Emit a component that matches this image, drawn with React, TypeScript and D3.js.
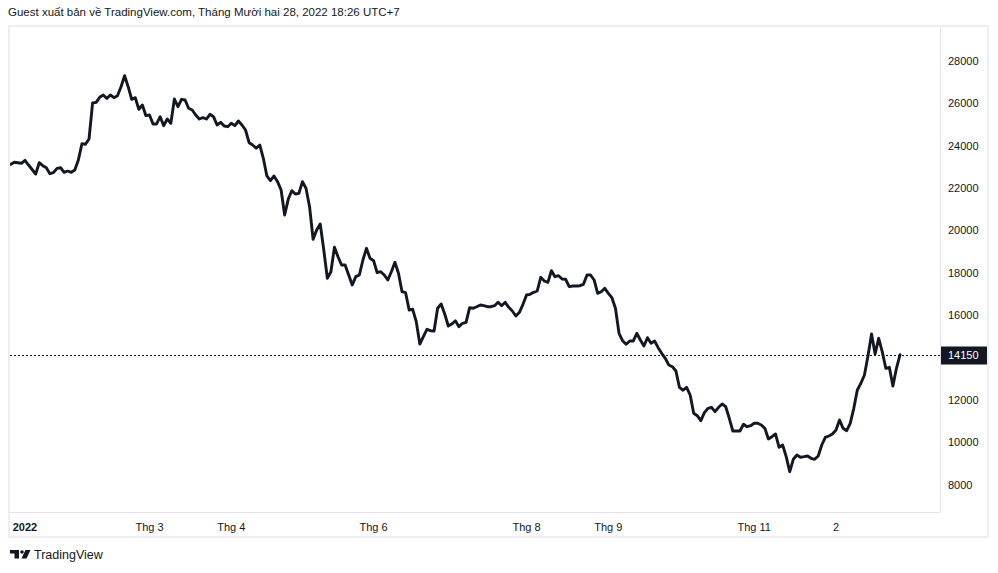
import React from "react";
import * as d3 from "d3";

// Bar index (trading day, 0 = 4 Jan 2022) and closing value
const barIndex: number[] = [
  -4, -3, -2, -1, 0, 1, 3, 4, 5, 6, 7, 8, 9, 10, 11, 12, 13, 14, 15, 16, 17, 18, 19,
  20, 21, 22, 23, 24, 25, 26, 27, 28, 29, 30, 31, 32, 33, 34, 35, 36, 37, 38, 39,
  40, 41, 42, 43, 44, 45, 46, 47, 48, 49, 50, 51, 52, 53, 54, 55, 56, 57, 58, 59,
  60, 61, 62, 63, 64, 65, 66, 67, 68, 69, 70, 71, 72, 73, 74, 75, 76, 77, 78, 79,
  80, 81, 82, 83, 84, 85, 86, 87, 88, 89, 90, 91, 92, 93, 94, 95, 96, 97, 98, 99,
  100, 101, 102, 103, 104, 105, 106, 107, 108, 109, 110, 111, 112, 113, 114, 115, 116, 117, 118, 119,
  120, 121, 122, 123, 124, 125, 126, 127, 128, 129, 130, 131, 132, 133, 134, 135, 136, 137, 138, 139,
  140, 141, 142, 143, 144, 145, 146, 147, 148, 149, 150, 151, 152, 153, 154, 155, 156, 157, 158, 159,
  160, 161, 162, 163, 164, 165, 166, 167, 168, 169, 170, 171, 172, 173, 174, 175, 176, 177, 178, 179,
  180, 181, 182, 183, 184, 185, 186, 187, 188, 189, 190, 191, 192, 193, 194, 195, 196, 197, 198, 199,
  200, 201, 202, 203, 204, 205, 206, 207, 208, 209, 210, 211, 212, 213, 214, 215, 216, 217, 218, 219,
  220, 221, 222, 223, 224, 225, 226, 227, 228, 229, 230, 231, 232, 233, 234, 235, 236, 237, 238, 239,
  240, 241, 242, 243, 244, 245, 246,
];

const closeValues: number[] = [
  23127, 23222, 23203, 23175, 23316, 23094, 22670, 23203, 23062, 22967, 22684, 22732, 22938, 22967, 22750, 22811, 22750, 22859, 23330, 24099, 24071, 24321, 26019,
  26051, 26287, 26396, 26240, 26396, 26271, 26365, 26788, 27307, 26788, 26193, 26271, 25722, 25925, 25420, 25453, 25029, 25029, 25373, 24950,
  25264, 25061, 26208, 25845, 26193, 26160, 25769, 25689, 25453, 25264, 25326, 25264, 25485, 25373, 24981, 25108, 24934, 24902, 25061, 24950,
  25170, 24981, 24745, 24147, 24038, 23882, 24038, 23411, 22576, 22354, 22576, 22307, 21915, 20736, 21476, 21883, 21726, 21759, 22307, 21995,
  21128, 19590, 20028, 20311, 19085, 17750, 18061, 19212, 18769, 18377, 18377, 17906, 17434, 17827, 17906, 18613, 19165, 18692, 18581, 18014,
  18061, 17906, 17670, 18061, 18505, 17986, 17118, 17071, 16255, 16288, 15703, 14651, 14996, 15344, 15278, 15265, 16335, 16538, 16066, 15500,
  15594, 15750, 15470, 15627, 15675, 16363, 16335, 16410, 16491, 16458, 16410, 16410, 16458, 16618, 16458, 16618, 16382, 16208, 15972, 16146,
  16524, 16962, 16995, 17090, 17151, 17797, 17623, 17561, 18109, 17826, 17873, 17717, 17703, 17354, 17387, 17387, 17401, 17467, 17906, 17906,
  17670, 17042, 17118, 17278, 17042, 16835, 16335, 15156, 14807, 14637, 14792, 14792, 15156, 14840, 14557, 14948, 14684, 14792, 14477, 14212,
  13976, 13660, 13580, 13377, 12600, 12470, 12607, 12245, 11382, 11269, 11033, 11410, 11618, 11665, 11457, 11665, 11821, 11693, 11146, 10547,
  10547, 10547, 10863, 10750, 10797, 10910, 10910, 10830, 10673, 10170, 10278, 10406, 9778, 9887, 9335, 8627, 9212, 9415, 9307, 9335,
  9368, 9259, 9212, 9368, 9887, 10250, 10311, 10406, 10594, 11066, 10673, 10562, 10910, 11618, 12481, 12797, 13189, 14100, 15123, 14179,
  14918, 14289, 13505, 13552, 12670, 13505, 14150,
];

const lastValue = 14150;
const yTickValues: number[] = [8000, 10000, 12000, 16000, 18000, 20000, 22000, 24000, 26000, 28000];
const timeTickIndex: number[] = [0, 35, 58, 98, 141, 164, 205, 228];
const timeTickLabels: string[] = ["2022", "Thg 3", "Thg 4", "Thg 6", "Thg 8", "Thg 9", "Thg 11", "2"];

const headerText = "Guest xuất bản về TradingView.com, Tháng Mười hai 28, 2022 18:26 UTC+7";

const W = 998;
const H = 573;
const plotLeft = 10;
const plotRight = 940;
const plotTop = 27;
const plotBottom = 512;
const frameRight = 988;
const frameBottom = 537;
const ink = "#131722";
const font = "'Liberation Sans', Arial, sans-serif";

export default function App() {
  const x = d3.scaleLinear().domain([-4.217, 257.24]).range([plotLeft, plotRight]);
  const y = d3.scaleLinear().domain([6726, 29604]).range([plotBottom, plotTop]);

  const pts: [number, number][] = barIndex.map((b, i) => [b, closeValues[i]]);
  const line = d3
    .line<[number, number]>()
    .x((d) => x(d[0]))
    .y((d) => y(d[1]))
    .curve(d3.curveLinear);

  const yLast = Math.round(y(lastValue)) + 0.5;

  return (
    <svg
      width={W}
      height={H}
      style={{ position: "absolute", left: 0, top: 0, background: "#ffffff" }}
      fontFamily={font}
    >
      <defs>
        <clipPath id="plotClip">
          <rect x={plotLeft} y={plotTop} width={plotRight - plotLeft} height={plotBottom - plotTop} />
        </clipPath>
      </defs>
      <rect x={0} y={0} width={W} height={H} fill="#ffffff" />
      <text x={8} y={16} fontSize={11.5} fill={ink}>
        {headerText}
      </text>

      {/* frame */}
      <rect
        x={plotLeft - 1}
        y={plotTop - 1}
        width={frameRight - plotLeft + 1}
        height={frameBottom - plotTop + 1}
        fill="none"
        stroke="#eceef3"
        strokeWidth={2}
      />
      <line x1={plotRight + 0.5} x2={plotRight + 0.5} y1={plotTop - 1} y2={plotBottom} stroke="#e0e3eb" />
      <line x1={plotLeft - 1} x2={plotRight + 0.5} y1={plotBottom + 0.5} y2={plotBottom + 0.5} stroke="#e0e3eb" />

      {/* price line */}
      <g clipPath="url(#plotClip)">
        <path d={line(pts) || ""} fill="none" stroke={ink} strokeWidth={2.9} strokeLinejoin="round" strokeLinecap="round" />
      </g>

      {/* last value dotted line */}
      <line x1={plotLeft} x2={plotRight} y1={yLast} y2={yLast} stroke={ink} strokeWidth={1} strokeDasharray="2 2" />

      {/* y axis labels */}
      {yTickValues.map((v) => (
        <text key={v} x={948} y={y(v)} dy="0.35em" fontSize={11} fill={ink}>
          {v}
        </text>
      ))}
      <rect x={plotRight + 1} y={yLast - 9} width={46} height={18} fill={ink} />
      <text x={948} y={yLast} dy="0.35em" fontSize={11} fill="#ffffff">
        {lastValue}
      </text>

      {/* x axis labels */}
      {timeTickIndex.map((b, i) => (
        <text
          key={b}
          x={x(b)}
          y={531}
          textAnchor="middle"
          fontSize={11}
          fontWeight={i === 0 ? "bold" : "normal"}
          fill={ink}
        >
          {timeTickLabels[i]}
        </text>
      ))}

      {/* TradingView logo */}
      <g fill={ink}>
        <rect x={10} y={550} width={9} height={3.5} />
        <rect x={14.5} y={550} width={4.5} height={8.5} />
        <circle cx={22} cy={552} r={1.8} />
        <path d="M25.5 550 L30.5 550 L26.5 558.5 L21.5 558.5 Z" />
      </g>
      <text x={34} y={559} fontSize={12.5} fill={ink}>
        TradingView
      </text>
    </svg>
  );
}
